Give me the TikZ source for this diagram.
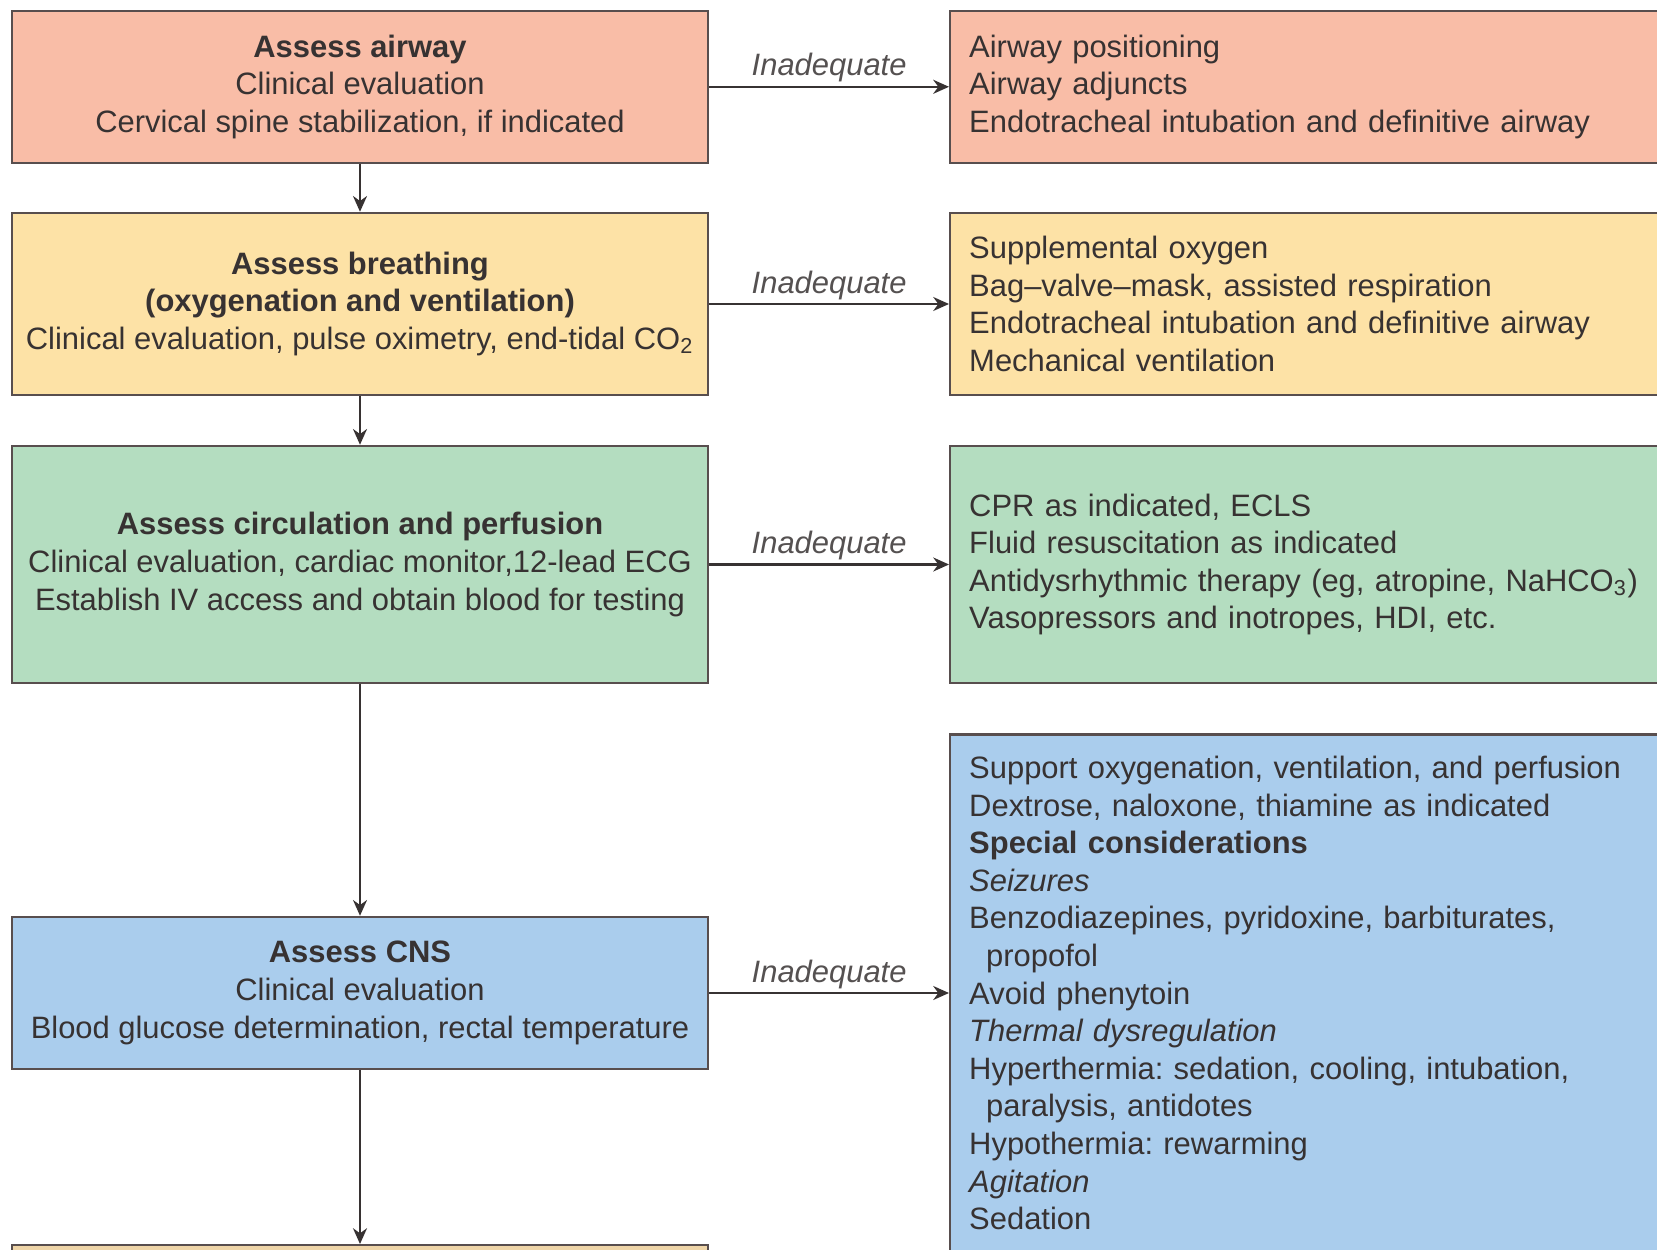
\documentclass[tikz,border=0pt]{standalone}
\usepackage{fontspec}
\setmainfont{Liberation Sans}
\usetikzlibrary{arrows.meta}
\frenchspacing

\definecolor{airwayfill}{RGB}{249,189,167}
\definecolor{breathfill}{RGB}{253,226,166}
\definecolor{circfill}{RGB}{180,221,192}
\definecolor{cnsfill}{RGB}{170,205,237}
\definecolor{nextfill}{RGB}{239,213,168}
\definecolor{edge}{RGB}{88,78,78}
\definecolor{ink}{RGB}{55,50,50}

\begin{document}
\begin{tikzpicture}[
    box/.style={draw=edge, line width=0.7pt, text=ink, inner sep=0pt,
        font=\fontsize{8.8}{10.7}\selectfont},
    assess/.style={box, minimum width=6.96cm, align=center},
    treat/.style={box, anchor=west, minimum width=7.7cm, text width=7.32cm,
        inner xsep=0.19cm, align=left},
    flow/.style={draw=ink, line width=0.6pt, -{Stealth[length=4.5pt,width=4pt]}},
    inadequate/.style={above, inner sep=1pt, text=ink!85,
        font=\fontsize{8.8}{10.7}\selectfont\itshape}
]
        \useasboundingbox (0,0) rectangle (16.57,-12.5);

        % Assessment steps
        \node[assess, fill=airwayfill, minimum height=1.52cm] (airway) at (3.60,-0.868)
            {\textbf{Assess airway}\\Clinical evaluation\\Cervical spine stabilization, if indicated};
        \node[assess, fill=breathfill, minimum height=1.82cm] (breath) at (3.60,-3.04)
            {\textbf{Assess breathing}\\\textbf{(oxygenation and ventilation)}\\Clinical evaluation, pulse oximetry, end-tidal CO\textsubscript{2}};
        \node[assess, fill=circfill, minimum height=2.37cm] (circ) at (3.60,-5.645)
            {\textbf{Assess circulation and perfusion}\\Clinical evaluation, cardiac monitor,12-lead ECG\\Establish IV access and obtain blood for testing};
        \node[assess, fill=cnsfill, minimum height=1.52cm] (cns) at (3.60,-9.93)
            {\textbf{Assess CNS}\\Clinical evaluation\\Blood glucose determination, rectal temperature};
        \node[assess, fill=nextfill, minimum height=1.5cm, anchor=north] (next) at (3.60,-12.44) {};

        % Interventions
        \node[treat, fill=airwayfill, minimum height=1.52cm] (airwayfix) at (9.49,-0.868)
            {Airway positioning\\Airway adjuncts\\Endotracheal intubation and definitive airway};
        \node[treat, fill=breathfill, minimum height=1.82cm] (breathfix) at (9.49,-3.04)
            {Supplemental oxygen\\Bag--valve--mask, assisted respiration\\Endotracheal intubation and definitive airway\\Mechanical ventilation};
        \node[treat, fill=circfill, minimum height=2.37cm] (circfix) at (9.49,-5.645)
            {CPR as indicated, ECLS\\Fluid resuscitation as indicated\\Antidysrhythmic therapy (eg, atropine, NaHCO\textsubscript{3})\\Vasopressors and inotropes, HDI, etc.};
        \node[treat, fill=cnsfill, minimum height=5.17cm] (cnsfix) at (9.49,-9.93)
            {Support oxygenation, ventilation, and perfusion\\Dextrose, naloxone, thiamine as indicated\\\textbf{Special considerations}\\\textit{Seizures}\\Benzodiazepines, pyridoxine, barbiturates,\\\hspace*{1.7mm}propofol\\Avoid phenytoin\\\textit{Thermal dysregulation}\\Hyperthermia: sedation, cooling, intubation,\\\hspace*{1.7mm}paralysis, antidotes\\Hypothermia: rewarming\\\textit{Agitation}\\Sedation};

        % Arrows
        \draw[flow] (airway) -- (breath);
        \draw[flow] (breath) -- (circ);
        \draw[flow] (circ) -- (cns);
        \draw[flow] (cns) -- (next);

        \draw[flow] (airway) -- node[inadequate] {Inadequate} (airwayfix);
        \draw[flow] (breath) -- node[inadequate] {Inadequate} (breathfix);
        \draw[flow] (circ) -- node[inadequate] {Inadequate} (circfix);
        \draw[flow] (cns) -- node[inadequate] {Inadequate} (cnsfix);
    \end{tikzpicture}
\end{document}
